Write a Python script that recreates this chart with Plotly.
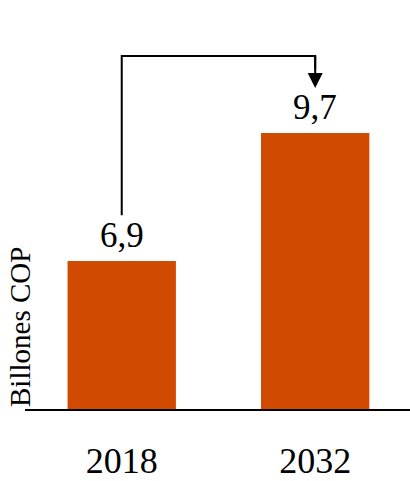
import plotly.graph_objects as go

categories = ["2018", "2032"]
values = [6.9, 9.7]
value_labels = ["6,9", "9,7"]
y_title = "Billones COP"

BAR_COLOR = "#D04A02"
FONT = "Liberation Serif"

fig = go.Figure()
fig.add_trace(go.Bar(
    x=categories,
    y=values,
    marker=dict(color=BAR_COLOR, line=dict(width=0)),
    width=0.56,
    hoverinfo="skip",
))

# value labels above bars (category index positions)
for i, (v, t) in enumerate(zip(values, value_labels)):
    fig.add_annotation(
        x=i, y=v, xref="x", yref="y", text=t, showarrow=False,
        yanchor="bottom", yshift=4,
        font=dict(family=FONT, size=35, color="#000000"),
    )

# connector line from first to second bar
fig.add_shape(
    type="path",
    xref="x", yref="paper",
    path="M 0,0.474 L 0,0.863 L 1,0.863 L 1,0.83",
    line=dict(color="#000000", width=2),
)
fig.add_annotation(
    x=1, y=0.785, xref="x", yref="paper",
    ax=0, ay=-34,
    text="", showarrow=True, arrowhead=2, arrowwidth=2, arrowsize=1.5,
    arrowcolor="#000000",
)

# y-axis title (anchored near the bottom)
fig.add_annotation(
    x=0, y=0, xref="paper", yref="paper", text=y_title, showarrow=False,
    textangle=-90, xanchor="right", yanchor="bottom", xshift=13, yshift=0,
    font=dict(family=FONT, size=29, color="#000000"),
)

fig.update_layout(
    width=410, height=481,
    margin=dict(l=25, r=0, t=0, b=72),
    paper_bgcolor="white", plot_bgcolor="white",
    showlegend=False,
    xaxis=dict(
        type="category",
        range=[-0.5, 1.49],
        automargin=False,
        showline=True, linecolor="#000000", linewidth=2,
        ticks="outside", ticklen=19, tickcolor="rgba(0,0,0,0)",
        tickfont=dict(family=FONT, size=36, color="#000000"),
        showgrid=False, zeroline=False,
    ),
    yaxis=dict(
        range=[3.66, 12.61],
        automargin=False,
        showticklabels=False, showgrid=False, zeroline=False, showline=False,
    ),
)

fig.write_html(
    "out.html",
    config={"displayModeBar": False},
    post_script="document.body.style.margin='0';",
)
